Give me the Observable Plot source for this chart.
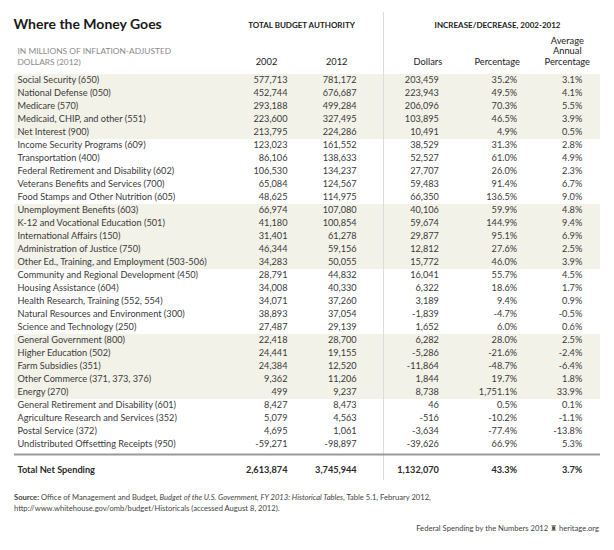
<!DOCTYPE html>
<html><head><meta charset="utf-8">
<script src="https://cdn.jsdelivr.net/npm/d3@7"></script>
<script src="https://cdn.jsdelivr.net/npm/@observablehq/plot@0.6"></script>
<style>
body{margin:0;background:#fff;font-family:Lato,"Open Sans",sans-serif;color:#333}
#wrap{width:614px;height:550px;position:relative;overflow:hidden}
#wrap svg{position:absolute;left:0;top:0}
.source{position:absolute;left:14px;top:492px;font-size:7.6px;line-height:11px;color:#444;width:590px}
.footer{position:absolute;right:15px;top:523px;font-size:7.6px;color:#444}
</style></head><body><div id="wrap"></div>
<script>
const categories = [
 "Social Security (650)","National Defense (050)","Medicare (570)","Medicaid, CHIP, and other (551)","Net Interest (900)",
 "Income Security Programs (609)","Transportation (400)","Federal Retirement and Disability (602)","Veterans Benefits and Services (700)","Food Stamps and Other Nutrition (605)",
 "Unemployment Benefits (603)","K-12 and Vocational Education (501)","International Affairs (150)","Administration of Justice (750)","Other Ed., Training, and Employment (503-506)",
 "Community and Regional Development (450)","Housing Assistance (604)","Health Research, Training (552, 554)","Natural Resources and Environment (300)","Science and Technology (250)",
 "General Government (800)","Higher Education (502)","Farm Subsidies (351)","Other Commerce (371, 373, 376)","Energy (270)",
 "General Retirement and Disability (601)","Agriculture Research and Services (352)","Postal Service (372)","Undistributed Offsetting Receipts (950)"
];
const v2002 = [577713,452744,293188,223600,213795,123023,86106,106530,65084,48625,66974,41180,31401,46344,34283,28791,34008,34071,38893,27487,22418,24441,24384,9362,499,8427,5079,4695,-59271];
const v2012 = [781172,676687,499284,327495,224286,161552,138633,134237,124567,114975,107080,100854,61278,59156,50055,44832,40330,37260,37054,29139,28700,19155,12520,11206,9237,8473,4563,1061,-98897];
const changeDollars = [203459,223943,206096,103895,10491,38529,52527,27707,59483,66350,40106,59674,29877,12812,15772,16041,6322,3189,-1839,1652,6282,-5286,-11864,1844,8738,46,-516,-3634,-39626];
const changePct = [35.2,49.5,70.3,46.5,4.9,31.3,61.0,26.0,91.4,136.5,59.9,144.9,95.1,27.6,46.0,55.7,18.6,9.4,-4.7,6.0,28.0,-21.6,-48.7,19.7,1751.1,0.5,-10.2,-77.4,66.9];
const avgAnnualPct = [3.1,4.1,5.5,3.9,0.5,2.8,4.9,2.3,6.7,9.0,4.8,9.4,6.9,2.5,3.9,4.5,1.7,0.9,-0.5,0.6,2.5,-2.4,-6.4,1.8,33.9,0.1,-1.1,-13.8,5.3];
const totalLabel = "Total Net Spending";
const totals = [2613874,3745944,1132070,43.3,3.7];
const columns = ["2002","2012","Dollars","Percentage","Average Annual Percentage"];
const columnHeaders = ["2002","2012","Dollars","Percentage","Average\nAnnual\nPercentage"];
const groupHeaders = ["TOTAL BUDGET AUTHORITY","INCREASE/DECREASE, 2002-2012"];
const title = "Where the Money Goes";
const unitNote = "IN MILLIONS OF INFLATION-ADJUSTED\nDOLLARS (2012)";

const loc = d3.formatLocale({decimal:".", thousands:",", grouping:[3], currency:["$",""], minus:"-"});
const fInt = loc.format(",");
const fPctBase = loc.format(",.1f");
const fPct = v => fPctBase(v) + "%";
const series = [v2002, v2012, changeDollars, changePct, avgAnnualPct];
const formats = [fInt, fInt, fInt, fPct, fPct];

// style only
const colNudge = [1, -4.8, 2.4, 5.6, -4.2];
const headNudge = [-21, -20, -11, -20, -15];
const shaded = categories.filter((_, i) => Math.floor(i / 5) % 2 === 0 && i < 25);
const gap = " ";
const textColor = "#3a3a3a";
const font = "Lato, 'Open Sans', sans-serif";
const fs = 9.2;

const marks = [];
marks.push(Plot.ruleY(shaded, {y: d => d, stroke: "#f3f2e9", strokeWidth: 13.2}));
marks.push(Plot.ruleX(["2012"], {x: d => d, dx: 22, stroke: "#dcdcdc", strokeWidth: 1}));
marks.push(Plot.ruleY([gap], {y: d => d, dy: -3, stroke: "#9a9a9a", strokeWidth: 2}));
marks.push(Plot.text([title], {frameAnchor: "top-left", text: d => d, dx: -1, dy: 16, lineAnchor: "bottom", textAnchor: "start", fontSize: 14, fontWeight: 700, fill: "#1a1a1a"}));
marks.push(Plot.text([unitNote], {frameAnchor: "top-left", text: d => d, dx: 3, dy: 52, lineAnchor: "bottom", textAnchor: "start", fontSize: 8.4, lineHeight: 1.3, fill: "#8a8a8a"}));
marks.push(Plot.text([groupHeaders[0]], {x: () => "2002", text: d => d, frameAnchor: "top", dx: 15, dy: 15, lineAnchor: "bottom", fontSize: 8, fontWeight: 700, fill: "#222"}));
marks.push(Plot.text([groupHeaders[1]], {x: () => "Percentage", text: d => d, frameAnchor: "top", dx: -14, dy: 15, lineAnchor: "bottom", fontSize: 8, fontWeight: 700, fill: "#222"}));
marks.push(Plot.text(categories, {y: d => d, text: d => d, frameAnchor: "left", dx: 3, textAnchor: "start", fontSize: fs, fill: textColor}));
marks.push(Plot.text([totalLabel], {y: d => d, text: d => d, frameAnchor: "left", dx: 3, textAnchor: "start", fontSize: fs, fontWeight: 700, fill: "#2a2a2a"}));
columns.forEach((col, j) => {
  marks.push(Plot.text([columnHeaders[j]], {x: () => col, text: d => d, frameAnchor: "top", dx: colNudge[j] + headNudge[j], dy: 52, lineAnchor: "bottom", lineHeight: 1.12, fontSize: 9.3, fill: "#222"}));
  marks.push(Plot.text(categories.map((c, i) => ({c, v: series[j][i]})), {x: () => col, y: "c", text: d => formats[j](d.v), dx: colNudge[j], textAnchor: "end", fontSize: fs, fill: textColor}));
  marks.push(Plot.text([{c: totalLabel, v: totals[j]}], {x: () => col, y: "c", text: d => formats[j](d.v), dx: colNudge[j], textAnchor: "end", fontSize: fs, fontWeight: 700, fill: "#2a2a2a"}));
});

const chart = Plot.plot({
  width: 614, height: 482,
  marginLeft: 14, marginRight: 14, marginTop: 12, marginBottom: 2,
  style: {fontFamily: font, background: "transparent"},
  x: {type: "point", domain: columns, range: [284, 587.2], padding: 0, align: 0.5, axis: null},
  y: {type: "point", domain: [...categories, gap, totalLabel], range: [77.5, 77.5 + 30 * 13.14], padding: 0, axis: null},
  marks
});
const wrap = document.getElementById("wrap");
wrap.appendChild(chart);
const src = document.createElement("div");
src.className = "source";
src.innerHTML = "<b>Source:</b> Office of Management and Budget, <i>Budget of the U.S. Government, FY 2013: Historical Tables</i>, Table 5.1, February 2012,<br>http://www.whitehouse.gov/omb/budget/Historicals (accessed August 8, 2012).";
wrap.appendChild(src);
const foot = document.createElement("div");
foot.className = "footer";
foot.textContent = "Federal Spending by the Numbers 2012 \u265C heritage.org";
wrap.appendChild(foot);
</script></body></html>
